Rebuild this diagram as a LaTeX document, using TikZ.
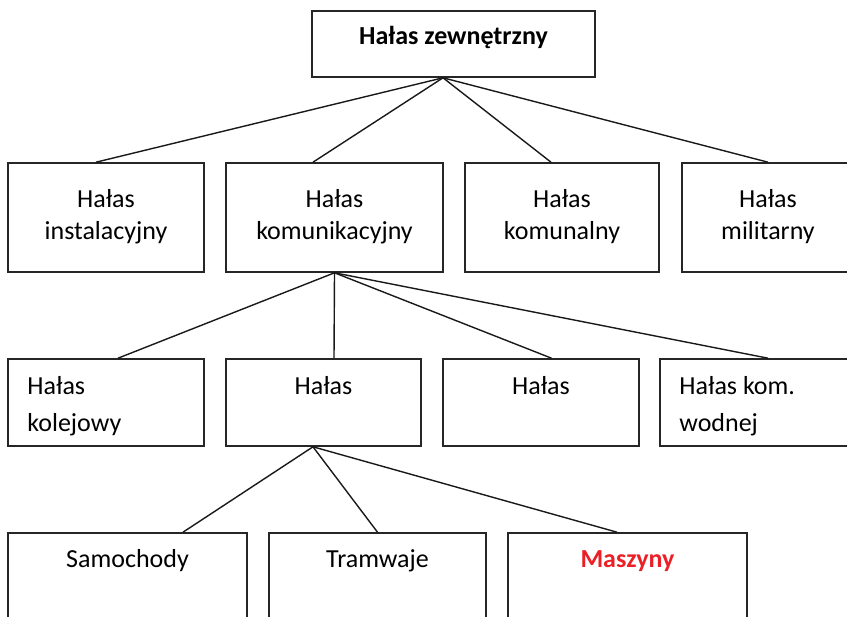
\documentclass[tikz,border=0pt]{standalone}
\usepackage{fontspec}
\setmainfont{Carlito}
\definecolor{alertred}{RGB}{235,32,38}
\newcommand\boxfont{\fontsize{26}{32}\selectfont}
\tikzset{
  box/.style={draw=black!85, line width=1.6pt, inner sep=0pt},
  txt/.style={font=\boxfont, inner sep=0pt, anchor=base},
  link/.style={line width=1.4pt, draw=black!90}
}

\begin{document}
\begin{tikzpicture}[x=1pt, y=-1pt]
\useasboundingbox (0,0) rectangle (847,617);
\clip (0,0) rectangle (847,617);

% boxes
\node[box, minimum width=283pt, minimum height=66pt] (zew) at (453.5,44) {};
\node[box, minimum width=196pt, minimum height=109pt] (inst) at (106,217.5) {};
\node[box, minimum width=217pt, minimum height=109pt] (kom) at (334.5,217.5) {};
\node[box, minimum width=194pt, minimum height=109pt] (komun) at (562,217.5) {};
\node[box, minimum width=172pt, minimum height=109pt] (mil) at (768,217.5) {};
\node[box, minimum width=196pt, minimum height=87pt] (kol) at (106,402.5) {};
\node[box, minimum width=195pt, minimum height=87pt] (drog) at (323.5,402.5) {};
\node[box, minimum width=196pt, minimum height=87pt] (lot) at (541,402.5) {};
\node[box, minimum width=196pt, minimum height=87pt] (wod) at (758,402.5) {};
\node[box, minimum width=239pt, minimum height=109pt] (sam) at (127.5,587.5) {};
\node[box, minimum width=217pt, minimum height=109pt] (tram) at (377.5,587.5) {};
\node[box, minimum width=239pt, minimum height=109pt] (masz) at (627.5,587.5) {};

% labels
\node[txt, font=\boxfont\bfseries] (zew-t) at ([yshift=-34.7pt]zew.north) {Hałas zewnętrzny};
\node[txt] (inst-t) at ([yshift=-45pt]inst.north) {Hałas};
\node[txt] (inst-t2) at ([yshift=-77pt]inst.north) {instalacyjny};
\node[txt] (kom-t) at ([yshift=-45pt]kom.north) {Hałas};
\node[txt] (kom-t2) at ([yshift=-77pt]kom.north) {komunikacyjny};
\node[txt] (komun-t) at ([yshift=-45pt]komun.north) {Hałas};
\node[txt] (komun-t2) at ([yshift=-77pt]komun.north) {komunalny};
\node[txt] (mil-t) at ([yshift=-45pt]mil.north) {Hałas};
\node[txt] (mil-t2) at ([yshift=-77pt]mil.north) {militarny};

\node[txt, anchor=base west] (kol-t) at ([xshift=20pt,yshift=-36pt]kol.north west) {Hałas};
\node[txt, anchor=base west] (kol-t2) at ([xshift=20pt,yshift=-73pt]kol.north west) {kolejowy};
\node[txt] (drog-t) at ([yshift=-36pt]drog.north) {Hałas};
\node[txt] (lot-t) at ([yshift=-36pt]lot.north) {Hałas};
\node[txt, anchor=base west] (wod-t) at ([xshift=20pt,yshift=-36pt]wod.north west) {Hałas kom.};
\node[txt, anchor=base west] (wod-t2) at ([xshift=20pt,yshift=-73pt]wod.north west) {wodnej};

\node[txt] (sam-t) at ([yshift=-35pt]sam.north) {Samochody};
\node[txt] (tram-t) at ([yshift=-35pt]tram.north) {Tramwaje};
\node[txt, font=\boxfont\bfseries, text=alertred] (masz-t) at ([yshift=-35pt]masz.north) {Maszyny};

% connectors
\draw[link] ([xshift=-10.5pt]zew.south) -- ([xshift=-10pt]inst.north);
\draw[link] ([xshift=-10.5pt]zew.south) -- ([xshift=-21.5pt]kom.north);
\draw[link] ([xshift=-10.5pt]zew.south) -- ([xshift=-11pt]komun.north);
\draw[link] ([xshift=-10.5pt]zew.south) -- (mil.north);

\draw[link] (kom.south) -- ([xshift=12pt]kol.north);
\draw[link] (kom.south) -- ([xshift=10.5pt]drog.north);
\draw[link] (kom.south) -- ([xshift=10.5pt]lot.north);
\draw[link] (kom.south) -- ([xshift=10pt]wod.north);

\draw[link] ([xshift=-10.5pt]drog.south) -- ([xshift=55.5pt]sam.north);
\draw[link] ([xshift=-10.5pt]drog.south) -- (tram.north);
\draw[link] ([xshift=-10.5pt]drog.south) -- ([xshift=-10.5pt]masz.north);
\end{tikzpicture}
\end{document}
